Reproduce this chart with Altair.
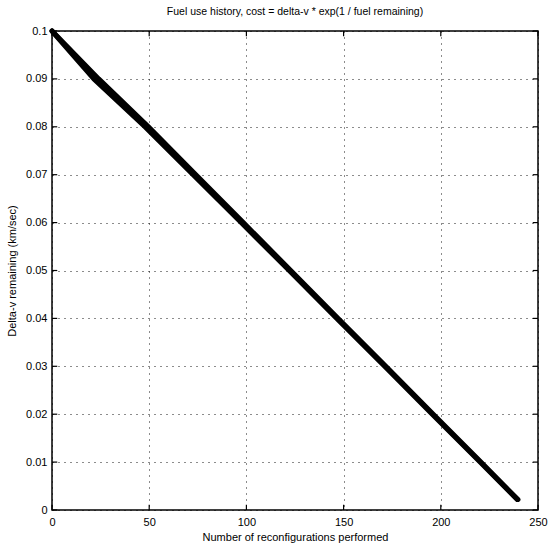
import altair as alt
import pandas as pd

# Delta-v levels (km/sec) and the number of reconfigurations at which they are reached
dv_levels = [0.1, 0.09, 0.08, 0.07, 0.06, 0.05, 0.04, 0.03, 0.02, 0.01, 0.0022]
run_a = [0, 21.5, 47.8, 72.6, 97.3, 122.0, 146.5, 171.1, 195.6, 220.2, 239.3]
run_b = [0, 24.0, 49.6, 74.0, 98.4, 122.8, 147.2, 171.7, 196.1, 220.6, 239.7]

x_ticks = [0, 50, 100, 150, 200, 250]
y_ticks = [0, 0.01, 0.02, 0.03, 0.04, 0.05, 0.06, 0.07, 0.08, 0.09, 0.1]

title = "Fuel use history, cost = delta-v * exp(1 / fuel remaining)"
x_title = "Number of reconfigurations performed"
y_title = "Delta-v remaining (km/sec)"

rows = []
for name, xs in (("a", run_a), ("b", run_b)):
    for xv, yv in zip(xs, dv_levels):
        rows.append({"run": name, "n": xv, "dv": yv})
df = pd.DataFrame(rows)

FONT = "Liberation Sans"
xs = alt.Scale(domain=[0, 250], nice=False, zero=False)
ys = alt.Scale(domain=[0, 0.1], nice=False, zero=False)

xaxis = alt.Axis(values=x_ticks, grid=True, gridColor="black", gridDash=[1, 5],
                 gridWidth=1, gridOpacity=0.9, tickSize=0, domain=False,
                 labelFont=FONT, labelFontSize=11, labelColor="black", labelPadding=6,
                 title=x_title, titleFont=FONT, titleFontSize=11, titleFontWeight="normal",
                 titleColor="black", titlePadding=4, labelFlush=False)
yaxis = alt.Axis(values=y_ticks, grid=True, gridColor="black", gridDash=[1, 5],
                 gridWidth=1, gridOpacity=0.9, tickSize=0, domain=False, format="~g",
                 labelFont=FONT, labelFontSize=11, labelColor="black", labelPadding=5,
                 title=y_title, titleFont=FONT, titleFontSize=11, titleFontWeight="normal",
                 titleColor="black", titlePadding=8, labelFlush=False)

lines = alt.Chart(df).mark_line(color="black", strokeWidth=5, strokeCap="round",
                                strokeJoin="round").encode(
    x=alt.X("n:Q", scale=xs, axis=xaxis),
    y=alt.Y("dv:Q", scale=ys, axis=yaxis),
    detail="run:N",
)

xt = pd.DataFrame({"t": x_ticks})
yt = pd.DataFrame({"t": y_ticks})
tick_bottom = alt.Chart(xt).mark_rule(color="black", strokeWidth=1.2).encode(
    x=alt.X("t:Q", scale=xs), y=alt.datum(0, scale=ys), y2=alt.datum(0.0011))
tick_top = alt.Chart(xt).mark_rule(color="black", strokeWidth=1.2).encode(
    x=alt.X("t:Q", scale=xs), y=alt.datum(0.1, scale=ys), y2=alt.datum(0.0989))
tick_left = alt.Chart(yt).mark_rule(color="black", strokeWidth=1.2).encode(
    y=alt.Y("t:Q", scale=ys), x=alt.datum(0, scale=xs), x2=alt.datum(2.7))
tick_right = alt.Chart(yt).mark_rule(color="black", strokeWidth=1.2).encode(
    y=alt.Y("t:Q", scale=ys), x=alt.datum(250, scale=xs), x2=alt.datum(247.3))

chart = alt.layer(lines, tick_bottom, tick_top, tick_left, tick_right).properties(
    width=486, height=479,
    title=alt.TitleParams(title, font=FONT, fontSize=10.5, fontWeight="normal",
                          color="black", offset=8, anchor="middle"),
    autosize=alt.AutoSizeParams(type="none"),
    padding={"left": 52, "top": 31, "right": 10, "bottom": 40},
    background="white",
).configure_view(stroke="black", strokeWidth=1.5)

chart.save("out.html", embed_options={"renderer": "svg", "actions": False})
